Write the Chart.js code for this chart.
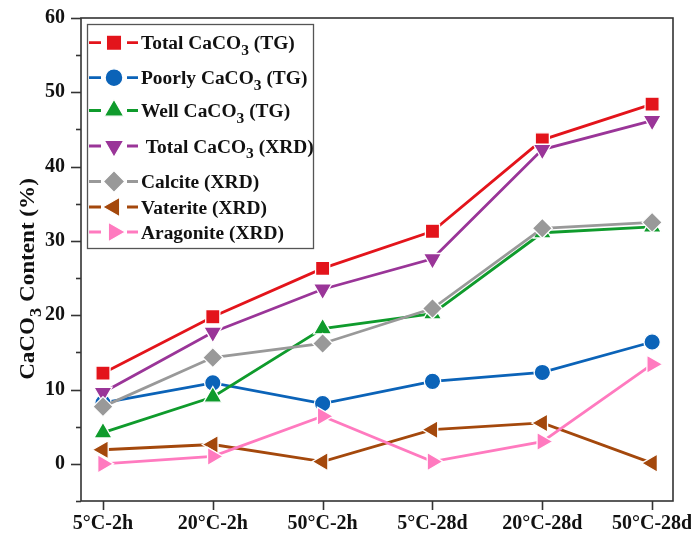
<!DOCTYPE html>
<html>
<head>
<meta charset="utf-8">
<script src="https://cdn.jsdelivr.net/npm/chart.js@4/dist/chart.umd.min.js"></script>
<style>
  html, body { margin: 0; padding: 0; background: #fff; }
  #wrap { width: 691px; height: 539px; }
</style>
</head>
<body>
<div id="wrap"><canvas id="grafico"></canvas></div>
<script>
const categorias = ["5°C-2h", "20°C-2h", "50°C-2h", "5°C-28d", "20°C-28d", "50°C-28d"];
const totalTG   = [12.2, 19.8, 26.3, 31.3, 43.6, 48.4];
const poorlyTG  = [8.2, 10.9, 8.1, 11.1, 12.3, 16.4];
const wellTG    = [4.2, 9.0, 18.2, 20.2, 31.1, 31.9];
const totalXRD  = [9.6, 17.7, 23.5, 27.6, 42.3, 46.2];
const calcita   = [7.7, 14.3, 16.2, 20.9, 31.7, 32.5];
const vaterita  = [1.9, 2.6, 0.3, 4.6, 5.5, 0.1];
const aragonita = [0.0, 1.0, 6.4, 0.3, 3.0, 13.4];
const yTicks = [0, 10, 20, 30, 40, 50, 60];
const tituloY = "CaCO_3 Content (%)";

const FONTE = '"Liberation Serif", "Times New Roman", serif';

/* séries: nome, valores, cor, marcador */
const series = [
  { label: "Total CaCO_3 (TG)",    data: totalTG,   cor: "#e3141b", estilo: "rect",     rot: 0,   r: 10 },
  { label: "Poorly CaCO_3 (TG)",   data: poorlyTG,  cor: "#0b63b8", estilo: "circle",   rot: 0,   r: 8.2 },
  { label: "Well CaCO_3 (TG)",     data: wellTG,    cor: "#0f9b2c", estilo: "triangle", rot: 0,   r: 10.5 },
  { label: " Total CaCO_3 (XRD)",  data: totalXRD,  cor: "#9a3598", estilo: "triangle", rot: 180, r: 10.5 },
  { label: "Calcite (XRD)",        data: calcita,   cor: "#999999", estilo: "rectRot",  rot: 0,   r: 10 },
  { label: "Vaterite (XRD)",       data: vaterita,  cor: "#a4480c", estilo: "triangle", rot: -90, r: 10.5 },
  { label: "Aragonite (XRD)",      data: aragonita, cor: "#ff7abf", estilo: "triangle", rot: 90,  r: 10.5 }
];

/* texto com subscrito: "CaCO_3" */
function partes(txt) {
  const out = [];
  txt.split(/(_\d)/).forEach(p => {
    if (!p) return;
    if (p[0] === "_") out.push({ t: p.slice(1), sub: true });
    else out.push({ t: p, sub: false });
  });
  return out;
}

function textoRico(ctx, txt, x, y, size, align, esticar) {
  const ps = partes(txt);
  const fonte = s => `bold ${s}px ${FONTE}`;
  const k = esticar || 1;
  let w = 0;
  ps.forEach(p => {
    ctx.font = fonte(p.sub ? size * 0.8 : size);
    p.w = ctx.measureText(p.t).width;
    w += p.w;
  });
  ctx.save();
  ctx.translate(x, y);
  ctx.scale(k, 1);
  let cx = align === "center" ? -w / 2 : 0;
  ctx.textAlign = "left";
  ctx.textBaseline = "alphabetic";
  ps.forEach(p => {
    ctx.font = fonte(p.sub ? size * 0.8 : size);
    ctx.fillText(p.t, cx, p.sub ? size * 0.32 : 0);
    cx += p.w;
  });
  ctx.restore();
}

/* moldura, ticks, título e legenda */
const moldura = {
  id: "moldura",
  afterDraw(chart) {
    const { ctx, chartArea: a, scales: { x, y } } = chart;
    ctx.save();

    ctx.strokeStyle = "#333";
    ctx.lineWidth = 1.6;
    ctx.strokeRect(a.left, a.top, a.right - a.left, a.bottom - a.top);

    for (let v = -5; v <= 60; v += 5) {
      const py = Math.round(y.getPixelForValue(v)) + 0.5;
      const len = v % 10 === 0 ? 10 : 5;
      ctx.beginPath();
      ctx.moveTo(a.left - len, py);
      ctx.lineTo(a.left, py);
      ctx.stroke();
    }
    categorias.forEach((c, i) => {
      const px = Math.round(x.getPixelForValue(i)) + 0.5;
      ctx.beginPath();
      ctx.moveTo(px, a.bottom);
      ctx.lineTo(px, a.bottom + 9);
      ctx.stroke();
    });

    // título do eixo y
    ctx.fillStyle = "#111";
    ctx.save();
    ctx.translate(34, 279);
    ctx.rotate(-Math.PI / 2);
    textoRico(ctx, tituloY, 0, 0, 22, "center", 1.05);
    ctx.restore();

    // legenda
    const bx = 87, by = 24, bw = 226, bh = 224;
    ctx.fillStyle = "#fff";
    ctx.fillRect(bx, by, bw, bh);
    ctx.strokeStyle = "#555";
    ctx.lineWidth = 1.3;
    ctx.strokeRect(bx + 0.5, by + 0.5, bw, bh);

    const linhas = [42.7, 77.7, 110.5, 146, 181.5, 207, 232];
    series.forEach((s, i) => {
      const ly = linhas[i];
      ctx.strokeStyle = s.cor;
      ctx.lineWidth = 2.8;
      ctx.beginPath();
      ctx.moveTo(89, ly); ctx.lineTo(101, ly);
      ctx.moveTo(127, ly); ctx.lineTo(138, ly);
      ctx.stroke();
      ctx.fillStyle = s.cor;
      ctx.strokeStyle = "#fff";
      ctx.lineWidth = 1.2;
      Chart.helpers.drawPoint(ctx, { pointStyle: s.estilo, rotation: s.rot, radius: s.r * 1.08, borderWidth: 1.2 }, 114, ly);
      ctx.fillStyle = "#111";
      textoRico(ctx, s.label, 141, ly + 6.5, 18.5, "left", 1.05);
    });

    ctx.restore();
  }
};

new Chart(document.getElementById("grafico"), {
  type: "line",
  data: {
    datasets: series.map((s, i) => ({
      label: s.label,
      data: s.data.map((v, k) => ({ x: k, y: v })),
      borderColor: s.cor,
      backgroundColor: s.cor,
      borderWidth: 2.8,
      tension: 0,
      pointStyle: s.estilo,
      pointRotation: s.rot,
      pointRadius: s.r,
      pointHoverRadius: s.r,
      pointBackgroundColor: s.cor,
      pointBorderColor: "#fff",
      pointBorderWidth: 1.3,
      order: series.length - i
    }))
  },
  options: {
    responsive: true,
    maintainAspectRatio: false,
    animation: false,
    layout: { padding: { top: 18, right: 18, left: 0, bottom: 0 } },
    plugins: {
      legend: { display: false },
      tooltip: { enabled: false }
    },
    scales: {
      x: {
        type: "linear",
        min: -0.2,
        max: 5.19,
        afterBuildTicks: sc => { sc.ticks = categorias.map((c, i) => ({ value: i })); },
        afterFit: sc => { sc.height = 38; sc.paddingLeft = 0; sc.paddingRight = 0; },
        grid: { display: true, drawOnChartArea: false, tickColor: "transparent", tickLength: 9 },
        border: { display: false },
        ticks: {
          autoSkip: false,
          maxRotation: 0,
          padding: 2,
          color: "#111",
          font: { family: FONTE, weight: "bold", size: 20 },
          callback: v => categorias[v]
        }
      },
      y: {
        min: -5,
        max: 60,
        afterBuildTicks: sc => { sc.ticks = yTicks.map(v => ({ value: v })); },
        afterFit: sc => { sc.width = 81; },
        grid: { display: true, drawOnChartArea: false, tickColor: "transparent", tickLength: 10 },
        border: { display: false },
        ticks: {
          padding: 6,
          color: "#111",
          font: { family: FONTE, weight: "bold", size: 20 }
        }
      }
    }
  },
  plugins: [moldura]
});
</script>
</body>
</html>
